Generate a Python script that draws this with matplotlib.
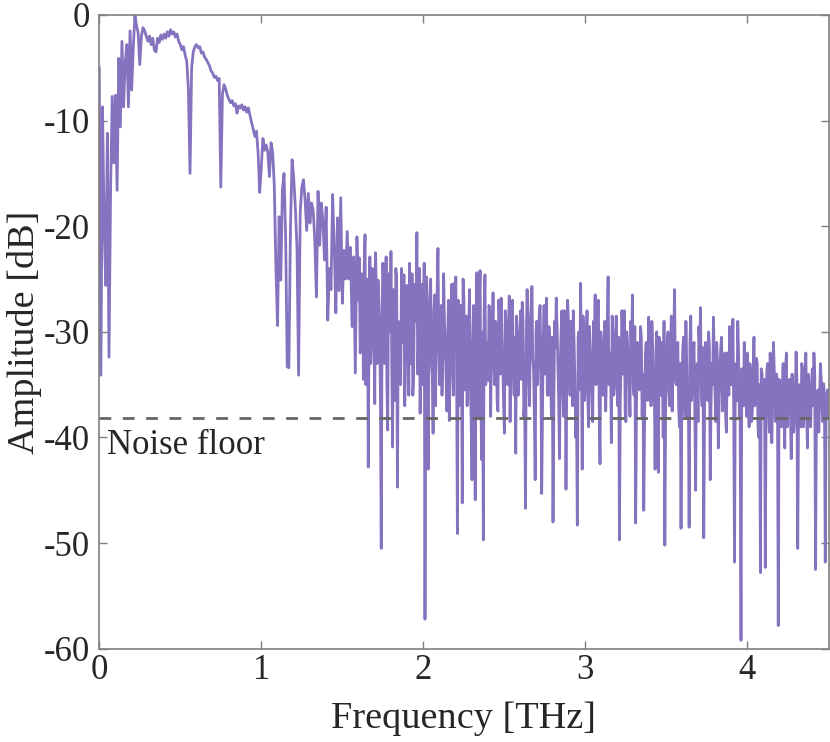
import numpy as np
import matplotlib
matplotlib.use("Agg")
import matplotlib.pyplot as plt

# Frequency grid [THz] (0.01 THz sampling) and amplitude [dB]
freq_start, freq_step = 0.0, 0.01

amp_db = [
    # 0.00 - 0.09
    -5.0, -34.1, -8.7, -20.0, -25.6, -11.2, -32.4, -16.3, -7.7, -14.0,
    # 0.10 - 0.19
    -7.6, -16.6, -4.1, -10.6, -2.5, -8.7, -4.5, -2.8, -8.7, -1.5,
    # 0.20 - 0.29
    -7.1, -3.0, 0.0, -1.0, -1.7, -4.7, -2.0, -1.2, -1.5, -2.0,
    # 0.30 - 0.39
    -2.5, -2.0, -2.8, -2.2, -3.3, -3.5, -2.2, -2.6, -1.9, -2.3,
    # 0.40 - 0.49
    -1.8, -2.2, -1.6, -2.0, -1.4, -1.8, -1.6, -2.1, -1.8, -2.5,
    # 0.50 - 0.59
    -2.8, -3.3, -3.0, -3.8, -4.4, -7.0, -15.0, -5.0, -3.5, -3.0,
    # 0.60 - 0.69
    -2.8, -3.1, -3.0, -3.6, -3.5, -4.0, -4.2, -4.5, -4.8, -5.3,
    # 0.70 - 0.79
    -5.5, -5.9, -5.8, -6.2, -6.0, -16.3, -7.5, -6.6, -7.0, -7.6,
    # 0.80 - 0.89
    -8.0, -8.3, -8.1, -8.6, -8.4, -9.3, -8.6, -8.8, -8.5, -9.0,
    # 0.90 - 0.99
    -8.7, -9.2, -8.8, -9.5, -10.2, -10.8, -11.5, -11.0, -13.0, -16.8,
    # 1.00 - 1.09
    -14.4, -11.7, -12.8, -12.3, -13.0, -15.3, -12.1, -13.0, -16.1, -23.9,
    # 1.10 - 1.19
    -29.4, -19.1, -25.1, -16.6, -15.0, -21.0, -33.3, -33.4, -20.0, -13.7,
    # 1.20 - 1.29
    -15.5, -18.2, -22.0, -34.1, -18.6, -16.3, -15.6, -17.5, -20.4, -16.9,
    # 1.30 - 1.39
    -19.7, -17.8, -18.5, -21.3, -26.7, -16.7, -21.8, -17.8, -19.5, -23.2,
    # 1.40 - 1.49
    -18.2, -28.9, -24.0, -26.0, -17.0, -22.0, -28.2, -19.2, -26.1, -17.3,
    # 1.50 - 1.59
    -27.3, -22.3, -25.0, -20.5, -25.0, -22.0, -29.5, -22.9, -33.9, -21.0,
    # 1.60 - 1.69
    -27.0, -32.0, -24.5, -34.5, -20.8, -30.0, -42.8, -22.9, -31.0, -27.0,
    # 1.70 - 1.79
    -36.8, -26.3, -25.1, -30.0, -50.5, -23.5, -33.0, -22.9, -39.3, -28.0,
    # 1.80 - 1.89
    -22.4, -40.9, -30.0, -24.0, -44.7, -31.0, -35.0, -27.0, -24.6, -33.0,
    # 1.90 - 1.99
    -25.6, -36.0, -28.5, -24.5, -34.0, -29.0, -20.6, -31.0, -37.7, -25.5,
    # 2.00 - 2.09
    -29.0, -57.2, -24.8, -43.0, -26.5, -33.0, -39.6, -26.5, -30.0, -22.1,
    # 2.10 - 2.19
    -35.0, -27.5, -32.0, -28.9, -34.0, -30.5, -38.4, -29.0, -33.0, -25.4,
    # 2.20 - 2.29
    -24.8, -49.1, -30.0, -27.5, -46.2, -26.8, -33.0, -37.0, -29.5, -35.0,
    # 2.30 - 2.39
    -44.0, -27.5, -45.9, -24.4, -38.0, -24.2, -42.1, -49.7, -24.6, -31.0,
    # 2.40 - 2.49
    -34.6, -28.0, -32.5, -26.3, -35.0, -30.0, -37.5, -28.5, -26.8, -33.0,
    # 2.50 - 2.59
    -39.6, -29.0, -35.0, -26.6, -31.0, -27.0, -36.0, -41.5, -30.0, -33.0,
    # 2.60 - 2.69
    -28.0, -27.2, -38.0, -46.7, -26.0, -34.0, -30.0, -25.7, -33.5, -44.0,
    # 2.70 - 2.79
    -29.0, -32.0, -27.5, -45.3, -30.5, -34.0, -26.8, -36.0, -31.0, -38.0,
    # 2.80 - 2.89
    -48.0, -29.0, -26.8, -33.0, -42.0, -30.0, -35.5, -28.0, -44.9, -27.0,
    # 2.90 - 2.99
    -33.0, -29.0, -37.0, -31.0, -40.0, -48.3, -30.0, -25.4, -43.0, -30.0,
    # 3.00 - 3.09
    -34.5, -28.0, -39.0, -31.5, -36.0, -29.0, -26.5, -33.0, -27.0, -42.5,
    # 3.10 - 3.19
    -32.0, -36.0, -29.0, -34.0, -24.8, -33.0, -40.5, -30.0, -35.0, -28.5,
    # 3.20 - 3.29
    -37.0, -49.7, -33.0, -30.0, -28.0, -38.5, -31.0, -35.0, -29.0, -26.5,
    # 3.30 - 3.39
    -36.0, -48.1, -31.0, -34.0, -29.5, -38.0, -46.9, -32.0, -35.0, -28.6,
    # 3.40 - 3.49
    -33.0, -29.0, -36.5, -43.0, -30.0, -43.3, -34.0, -31.0, -40.0, -50.2,
    # 3.50 - 3.59
    -34.0, -30.0, -37.0, -28.5, -33.0, -26.0, -35.0, -31.0, -39.0, -48.6,
    # 3.60 - 3.69
    -32.0, -36.0, -29.0, -38.0, -48.5, -28.5, -34.0, -31.0, -45.0, -33.0,
    # 3.70 - 3.79
    -29.5, -27.7, -37.0, -49.5, -31.0, -35.0, -30.0, -44.0, -33.0, -28.6,
    # 3.80 - 3.89
    -36.0, -31.0, -41.0, -33.5, -30.5, -37.0, -32.0, -39.5, -33.0, -29.5,
    # 3.90 - 3.99
    -35.0, -28.8, -51.8, -33.0, -29.0, -38.0, -59.2, -35.0, -31.0, -36.5,
    # 4.00 - 4.09
    -32.0, -39.0, -34.0, -37.5, -30.5, -36.0, -33.0, -40.0, -52.8, -34.0,
    # 4.10 - 4.19
    -38.0, -52.3, -33.5, -37.0, -32.0, -40.5, -31.0, -36.0, -34.0, -57.8,
    # 4.20 - 4.29
    -35.0, -39.0, -33.0, -41.0, -32.0, -37.0, -34.5, -42.0, -35.0, -38.5,
    # 4.30 - 4.39
    -31.9, -50.5, -35.0, -39.0, -33.5, -37.0, -32.0, -41.0, -35.5, -39.0,
    # 4.40 - 4.50
    -33.5, -32.0, -52.5, -36.0, -39.5, -33.0, -37.0, -34.9, -51.8, -36.0,
    -38.0,
]

# Extra in-between samples of the dense noisy band, at 1.605, 1.615, ... 4.495 THz
mid_start = 1.605
amp_mid_db = [
    -23.0, -29.0, -26.0, -23.5, -35.0, -25.0, -28.0, -33.0, -24.0, -30.5,
    -22.5, -33.0, -27.0, -36.0, -28.5, -25.5, -31.0, -35.0, -24.5, -30.0,
    -33.0, -26.0, -36.5, -25.0, -29.0, -33.5, -24.0, -31.0, -37.0, -26.5,
    -30.0, -23.5, -33.0, -36.0, -25.5, -28.0, -34.0, -24.0, -30.0, -35.0,
    -23.5, -31.0, -36.0, -29.0, -25.0, -34.0, -28.0, -37.0, -26.0, -31.0,
    -29.5, -36.0, -24.5, -31.5, -37.5, -27.0, -33.0, -25.5, -36.0, -30.0,
    -33.5, -27.0, -37.0, -31.0, -25.0, -35.5, -28.5, -33.0, -26.0, -38.5,
    -31.0, -36.0, -29.0, -33.5, -27.0, -37.0, -30.0, -28.0, -35.0, -32.5,
    -27.5, -38.0, -30.5, -33.0, -29.0, -36.5, -27.0, -34.0, -31.0, -37.0,
    -28.0, -33.5, -30.0, -38.5, -27.5, -34.0, -30.5, -28.5, -36.0, -31.5,
    -34.5, -29.0, -36.5, -31.0, -28.5, -37.0, -27.5, -32.5, -38.0, -30.0,
    -35.0, -28.5, -33.0, -37.5, -27.5, -31.0, -36.0, -29.5, -34.0, -30.5,
    -37.0, -31.5, -29.5, -36.5, -33.0, -28.0, -38.0, -31.0, -34.5, -29.0,
    -36.0, -31.5, -28.0, -34.5, -37.5, -30.5, -35.5, -32.0, -28.5, -36.5,
    -31.0, -36.5, -29.5, -33.5, -38.5, -31.0, -35.0, -28.5, -37.0, -30.0,
    -34.5, -31.0, -37.5, -29.0, -35.0, -32.0, -28.5, -36.0, -31.5, -34.0,
    -30.5, -36.5, -28.0, -34.0, -37.5, -30.0, -33.5, -38.0, -31.5, -35.0,
    -29.5, -37.0, -32.0, -35.5, -30.5, -34.0, -38.5, -31.0, -36.5, -33.0,
    -37.0, -31.5, -35.0, -32.0, -38.5, -30.5, -36.0, -33.5, -29.0, -37.0,
    -31.0, -35.5, -32.5, -37.5, -30.5, -34.5, -31.5, -37.0, -33.0, -36.0,
    -30.5, -38.0, -33.0, -35.5, -31.0, -36.5, -32.0, -37.5, -34.0, -38.5,
    -32.0, -35.5, -31.5, -38.0, -34.0, -36.5, -31.5, -37.0, -35.0, -32.5,
    -38.5, -33.0, -36.0, -31.5, -37.5, -34.5, -38.0, -32.0, -36.0, -34.0,
    -32.5, -37.5, -34.0, -36.5, -32.0, -38.5, -33.5, -37.0, -35.0, -38.0,
    -35.5, -33.0, -38.5, -34.0, -37.0, -32.5, -39.0, -35.0, -33.5, -38.0,
    -34.5, -36.5, -33.0, -39.5, -35.0, -37.0, -33.5, -38.5, -36.0, -34.5,
    -38.0, -35.0, -36.5, -33.5, -39.0, -35.5, -37.5, -34.0, -39.5, -36.0,
    -34.5, -38.0, -36.0, -33.0, -39.0, -35.5, -37.5, -34.0, -38.5, -35.0,
    -37.0, -34.0, -39.0, -35.5, -36.5, -34.5, -38.5, -36.0, -37.0, -35.5,
]

noise_floor_db = -38.2
noise_label = "Noise floor"
x_ticks = [0, 1, 2, 3, 4]
y_ticks = [0, -10, -20, -30, -40, -50, -60]
x_label = "Frequency [THz]"
y_label = "Amplitude [dB]"

freq_main = np.arange(len(amp_db)) * freq_step + freq_start
freq_mid = np.arange(len(amp_mid_db)) * freq_step + mid_start
freq_all = np.concatenate([freq_main, freq_mid])
amp_all = np.concatenate([np.asarray(amp_db), np.asarray(amp_mid_db)])
order = np.argsort(freq_all, kind="stable")
freq_all, amp_all = freq_all[order], amp_all[order]

plt.rcParams["font.family"] = ["Liberation Serif", "DejaVu Serif"]
plt.rcParams["lines.scale_dashes"] = False

fig = plt.figure(figsize=(8.30, 7.42), dpi=100)
ax = fig.add_axes([0.1196, 0.1257, 0.9982 - 0.1196, 0.9798 - 0.1257])

ax.plot(freq_all, amp_all, color="#8673bf", lw=2.0, solid_joinstyle="round", zorder=2)
ax.axhline(noise_floor_db, color="#666666", lw=2.0, dashes=(8.5, 8.3), zorder=3)
ax.text(0.048, -40.8, noise_label, fontsize=25, va="center", ha="left", color="#262626")

ax.set_xlim(0, 4.5)
ax.set_ylim(-60, 0)
ax.set_xticks(x_ticks)
ax.set_xticklabels([str(t) for t in x_ticks])
ax.set_yticks(y_ticks)
ax.set_yticklabels([str(t) for t in y_ticks])

for s in ax.spines.values():
    s.set_color("#7f7f7f")
    s.set_linewidth(1.2)
ax.tick_params(direction="in", length=6, width=1.0, colors="#7f7f7f",
               labelcolor="#262626", labelsize=25, top=True, right=True)
ax.tick_params(axis="x", pad=4)
ax.tick_params(axis="y", pad=7)
ax.set_xlabel(x_label, fontsize=27.5, color="#262626", labelpad=10)
ax.set_ylabel(y_label, fontsize=27.5, color="#262626", labelpad=1)

fig.savefig("out.png", dpi=100)
